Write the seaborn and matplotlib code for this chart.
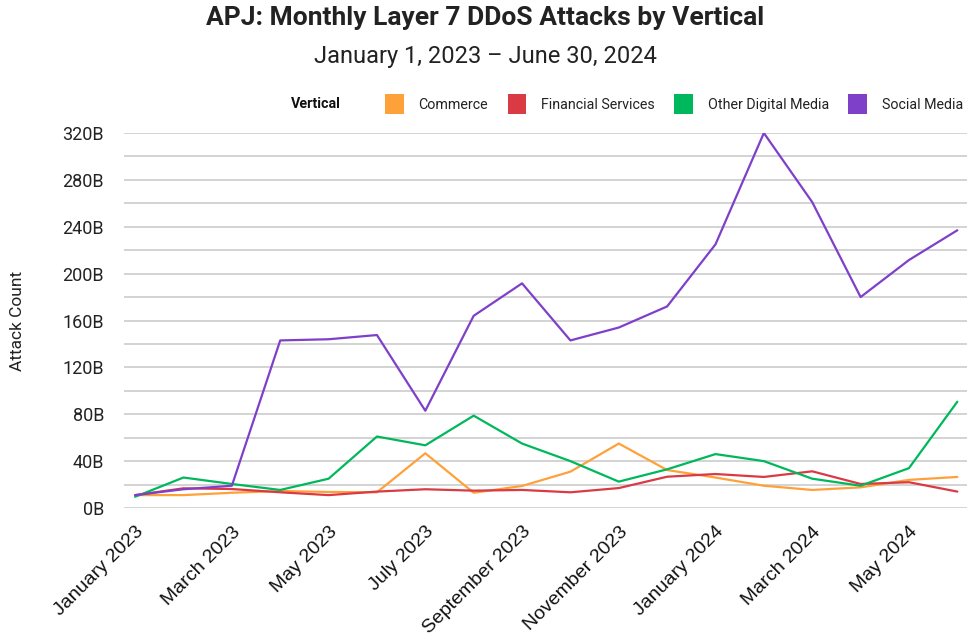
import matplotlib
matplotlib.use("Agg")
import matplotlib.pyplot as plt
import matplotlib.patches as mpatches
import seaborn as sns
import pandas as pd

months = ["January 2023", "February 2023", "March 2023", "April 2023", "May 2023", "June 2023",
          "July 2023", "August 2023", "September 2023", "October 2023", "November 2023",
          "December 2023", "January 2024", "February 2024", "March 2024", "April 2024",
          "May 2024", "June 2024"]

commerce = [11, 11, 13, 14.5, 13.7, 13.4, 46.7, 13, 18.8, 31, 55, 32.4, 26, 19, 15.4, 17.6, 24, 26.5]
financial = [11, 16.8, 16.2, 13.4, 11, 14, 16, 14.8, 15.4, 13.4, 17, 26.7, 29, 26.5, 31.3, 20.5, 22, 14]
other_media = [9.6, 26, 20.5, 15.4, 25, 61, 53.5, 78.8, 55, 40, 22.5, 33, 46, 40, 25, 19, 34, 90.7]
social_media = [11, 16, 19, 143, 144, 147.6, 83, 164, 191.7, 143, 154, 172, 225, 320, 261, 180, 211.6, 237]

series = {
    "Commerce": commerce,
    "Financial Services": financial,
    "Other Digital Media": other_media,
    "Social Media": social_media,
}
colors = {
    "Commerce": "#FFA13A",
    "Financial Services": "#D93A44",
    "Other Digital Media": "#00B85C",
    "Social Media": "#7F40C9",
}
yticks = [0, 40, 80, 120, 160, 200, 240, 280, 320]

rows = []
for name, vals in series.items():
    for i, v in enumerate(vals):
        rows.append({"pos": i, "month": months[i], "Vertical": name, "value": v})
df = pd.DataFrame(rows)

sns.set_theme(style="white")
plt.rcParams["font.family"] = ["Roboto", "DejaVu Sans"]

fig = plt.figure(figsize=(9.67, 6.38), dpi=100)
ax = fig.add_axes([124 / 967, 1 - 508 / 638, 1 - 124 / 967, (508 - 133) / 638])

sns.lineplot(data=df, x="pos", y="value", hue="Vertical", palette=colors,
             hue_order=list(series.keys()), linewidth=1.6, ax=ax, legend=False)

ax.set_ylim(0, 320)
ax.set_xlim(-0.23, 17.2)
ax.set_axisbelow(True)
ax.set_yticks(yticks)
ax.set_yticks(range(20, 320, 40), minor=True)
ax.yaxis.grid(True, which="both", color="#CCCCCC", linewidth=1.2)
ax.set_yticklabels([f"{t}B" for t in yticks], fontsize=13, color="#222222")
ax.tick_params(axis="y", which="both", length=0, pad=14.4)
ax.tick_params(axis="x", length=0, pad=11)

xt = list(range(0, len(months), 2))
ax.set_xticks(xt)
ax.set_xticklabels([months[i] for i in xt], rotation=45, ha="right", rotation_mode="anchor",
                   fontsize=14, family=["Liberation Sans", "DejaVu Sans"], color="#111111")
for s in ax.spines.values():
    s.set_visible(False)
ax.set_xlabel("")
ax.set_ylabel("Attack Count", fontsize=12.5, color="#222222")
ax.yaxis.set_label_coords(-(124 - 25) / 843, 0.5)

fig.text(0.502, 1 - 18 / 638, "APJ: Monthly Layer 7 DDoS Attacks by Vertical", ha="center", va="center",
         fontsize=19, fontweight="bold", color="#222222")
fig.text(0.502, 1 - 56 / 638, "January 1, 2023 – June 30, 2024", ha="center", va="center",
         fontsize=17, color="#222222")

fig.text(291 / 967, 1 - 104 / 638, "Vertical", ha="left", va="center", fontsize=10.3,
         fontweight="bold", color="#111111")
handles = [mpatches.Patch(facecolor=colors[n], edgecolor="none", label=n) for n in series]
leg = fig.legend(handles=handles, loc="center left", bbox_to_anchor=(385 / 967, 1 - 104 / 638),
                 ncol=4, frameon=False, fontsize=10.3, handlelength=1.3, handleheight=1.7,
                 handletextpad=1.05, columnspacing=1.35, borderaxespad=0, borderpad=0)
for t in leg.get_texts():
    t.set_color("#222222")

fig.savefig("out.png", dpi=100)
